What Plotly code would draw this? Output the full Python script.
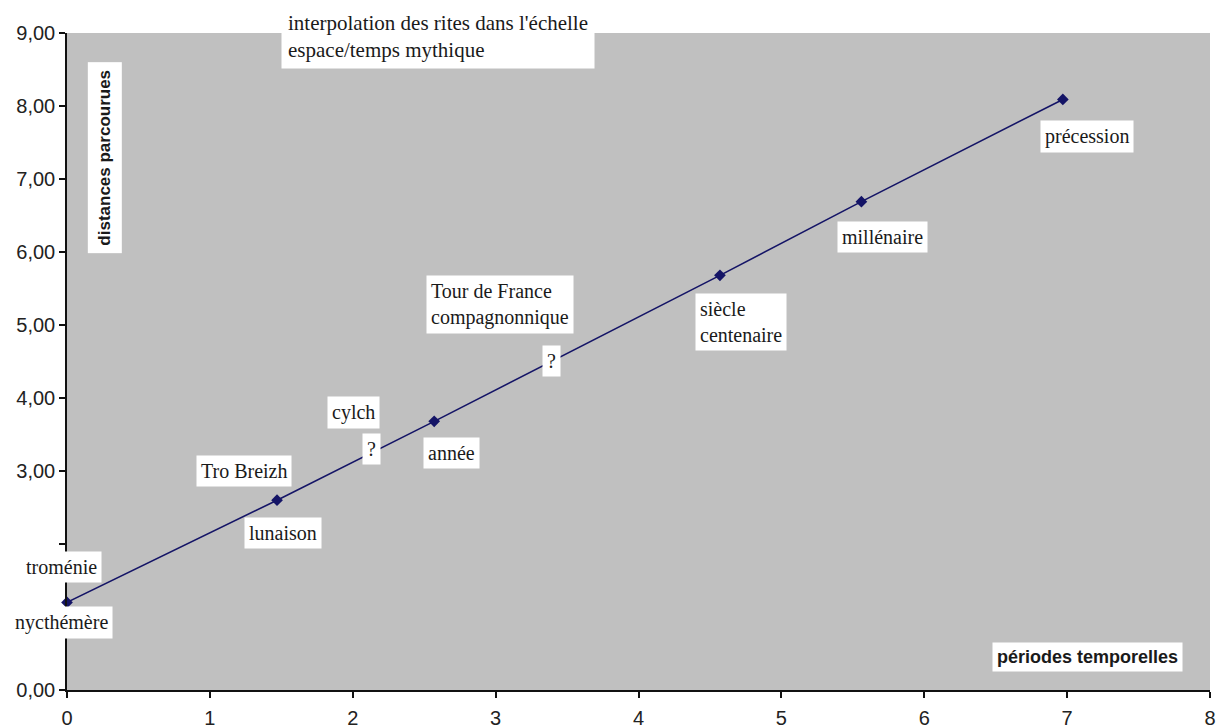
import plotly.graph_objects as go

# Data (x: périodes temporelles, y: distances parcourues)
x_vals = [0.0, 1.47, 2.57, 4.57, 5.56, 6.97]
y_vals = [1.20, 2.60, 3.68, 5.68, 6.69, 8.09]

x_ticks = [0, 1, 2, 3, 4, 5, 6, 7, 8]
y_ticks = [0, 1, 2, 3, 4, 5, 6, 7, 8, 9]
# 1,00 and 2,00 are hidden behind label boxes in the reference
y_ticktext = ["0,00", "", "", "3,00", "4,00", "5,00", "6,00", "7,00", "8,00", "9,00"]

title_text = "interpolation des rites dans l'échelle<br>espace/temps mythique"
x_title = "périodes temporelles"
y_title = "distances parcourues"

label_texts = ["troménie", "nycthémère", "lunaison", "Tro Breizh", "cylch", "?",
               "année", "Tour de France<br>compagnonnique", "?",
               "siècle<br>centenaire", "millénaire", "précession"]
# label centres in paper coordinates
label_px = [-0.0052, -0.0044, 0.189, 0.155, 0.2507, 0.2668, 0.336, 0.3788, 0.4243, 0.5897, 0.7135, 0.8928]
label_py = [0.187, 0.102, 0.239, 0.334, 0.423, 0.367, 0.361, 0.5875, 0.5008, 0.5601, 0.6895, 0.8432]

SERIF = "Liberation Serif, Times New Roman, serif"
SANS = "Liberation Sans, Arial, sans-serif"
TXT = "#1a1a1a"

fig = go.Figure()
fig.add_trace(go.Scatter(
    x=x_vals, y=y_vals, mode="lines+markers",
    line=dict(color="#141466", width=1.6),
    marker=dict(symbol="diamond", size=9, color="#141466"),
    cliponaxis=False, showlegend=False, hoverinfo="skip"))

annotations = []
for t, px, py in zip(label_texts, label_px, label_py):
    annotations.append(dict(
        text=t, x=px, y=py, xref="paper", yref="paper",
        xanchor="center", yanchor="middle", align="left", showarrow=False,
        bgcolor="white", borderpad=4,
        font=dict(family=SERIF, size=20, color=TXT)))

annotations.append(dict(
    text=title_text, x=0.325, y=0.994, xref="paper", yref="paper",
    xanchor="center", yanchor="middle", align="left", showarrow=False,
    bgcolor="white", borderpad=6,
    font=dict(family=SERIF, size=21, color=TXT)))

annotations.append(dict(
    text="<b>" + x_title + "</b>", x=0.8928, y=0.0495, xref="paper", yref="paper",
    xanchor="center", yanchor="middle", showarrow=False,
    bgcolor="white", borderpad=4,
    font=dict(family=SANS, size=18, color=TXT)))

annotations.append(dict(
    text="<b>" + y_title + "</b>", x=0.0328, y=0.811, xref="paper", yref="paper",
    xanchor="center", yanchor="middle", showarrow=False, textangle=-90,
    bgcolor="white", borderpad=7,
    font=dict(family=SANS, size=17, color=TXT)))

fig.update_layout(
    width=1225, height=727,
    margin=dict(l=59, r=23, t=25, b=45),
    paper_bgcolor="white",
    plot_bgcolor="#c0c0c0",
    separators=", ",
    annotations=annotations,
    xaxis=dict(range=[0, 8], tickvals=x_ticks, showgrid=False, zeroline=False,
               automargin=False, ticklabelstandoff=3,
               showline=True, linecolor="#111111", linewidth=1.5,
               ticks="outside", ticklen=6, tickcolor="#111111", tickwidth=1.5,
               tickfont=dict(family=SANS, size=20, color="#222222")),
    yaxis=dict(range=[0, 9], tickvals=y_ticks, ticktext=y_ticktext, showgrid=False,
               automargin=False,
               zeroline=False, showline=True, linecolor="#111111", linewidth=1.5,
               ticks="outside", ticklen=6, tickcolor="#111111", tickwidth=1.5,
               tickfont=dict(family=SANS, size=20, color="#222222")),
)

fig.write_html("out.html")
